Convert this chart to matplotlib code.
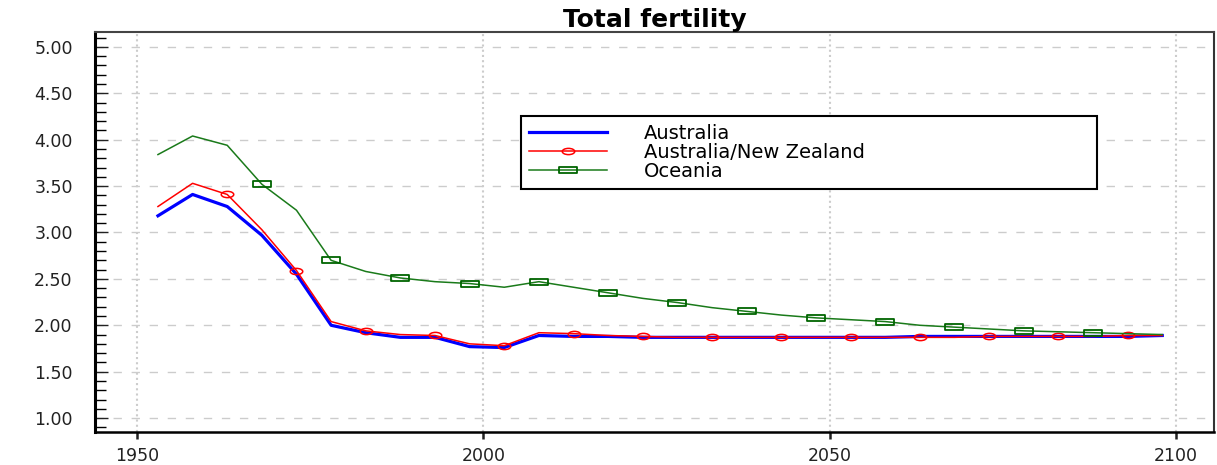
#!/usr/bin/env python
# -*- coding: utf-8 -*-
import matplotlib
matplotlib.use('Agg')
import matplotlib.pyplot as plt
from matplotlib.path import Path
from matplotlib.transforms import Affine2D
from matplotlib.ticker import MultipleLocator, FormatStrFormatter

years = [1953, 1958, 1963, 1968, 1973, 1978, 1983, 1988, 1993, 1998,
         2003, 2008, 2013, 2018, 2023, 2028, 2033, 2038, 2043, 2048,
         2053, 2058, 2063, 2068, 2073, 2078, 2083, 2088, 2093, 2098]

australia = [3.18, 3.41, 3.28, 2.97, 2.55, 2.00, 1.92, 1.87, 1.87, 1.77,
             1.76, 1.89, 1.88, 1.88, 1.87, 1.87, 1.87, 1.87, 1.87, 1.87,
             1.87, 1.87, 1.88, 1.88, 1.88, 1.88, 1.88, 1.88, 1.88, 1.89]

aus_nz = [3.28, 3.53, 3.41, 3.03, 2.59, 2.04, 1.94, 1.90, 1.89, 1.80,
          1.78, 1.92, 1.91, 1.89, 1.88, 1.87, 1.87, 1.87, 1.87, 1.87,
          1.87, 1.87, 1.87, 1.87, 1.88, 1.88, 1.88, 1.88, 1.89, 1.89]

oceania = [3.84, 4.04, 3.94, 3.52, 3.24, 2.70, 2.58, 2.51, 2.47, 2.45,
           2.41, 2.47, 2.41, 2.35, 2.29, 2.245, 2.19, 2.15, 2.11, 2.08,
           2.06, 2.04, 2.00, 1.98, 1.96, 1.94, 1.93, 1.92, 1.91, 1.90]

labels = ['Australia', 'Australia/New Zealand', 'Oceania']

plt.rcParams['font.family'] = ['DejaVu Sans']

# wide markers, the reference is stretched sideways
ellipse = Path.unit_circle().transformed(Affine2D().scale(2.0, 1.0))
box = Path([(-3, -1), (3, -1), (3, 1), (-3, 1), (-3, -1)],
           [Path.MOVETO, Path.LINETO, Path.LINETO, Path.LINETO, Path.CLOSEPOLY])

fig = plt.figure(figsize=(12.17, 4.65), dpi=100)
ax = fig.add_axes([0.078, 0.071, 0.9197, 0.860])

ax.plot(years, australia, color='#0000ff', lw=2.3, label=labels[0], zorder=3)
ax.plot(years, aus_nz, color='#ff0000', lw=1.1, marker=ellipse, markersize=9,
        markerfacecolor='none', markeredgecolor='#ff0000', markeredgewidth=1.1,
        markevery=slice(2, 30, 2), label=labels[1], zorder=4)
ax.plot(years, oceania, color='#1a7a1a', lw=1.1, marker=box, markersize=13,
        markerfacecolor='none', markeredgecolor='#006400', markeredgewidth=1.3,
        markevery=slice(3, 28, 2), label=labels[2], zorder=4)

ax.set_xlim(1943.9, 2105.5)
ax.set_ylim(0.85, 5.16)

ax.xaxis.set_major_locator(MultipleLocator(50))
ax.yaxis.set_major_locator(MultipleLocator(0.5))
ax.yaxis.set_minor_locator(MultipleLocator(0.1))
ax.yaxis.set_major_formatter(FormatStrFormatter('%.2f'))

ax.tick_params(axis='x', which='major', direction='out', length=5, width=1.8,
               labelsize=12.5, pad=6, colors='#222222', top=False)
ax.tick_params(axis='y', which='major', direction='in', length=9, width=1.0,
               labelsize=12.5, pad=16, colors='#222222', right=False)
ax.tick_params(axis='y', which='minor', direction='in', length=8, width=1.0,
               right=False)
ax.tick_params(axis='x', which='minor', bottom=False, top=False)

ax.yaxis.grid(True, which='major', color='#cccccc', lw=1.0, linestyle=(0, (6, 7)))
ax.xaxis.grid(True, which='major', color='#cccccc', lw=1.5, linestyle=(0, (1, 1.5)))
ax.set_axisbelow(True)

ax.spines['left'].set_linewidth(2.2)
ax.spines['bottom'].set_linewidth(1.8)
ax.spines['top'].set_linewidth(1.5)
ax.spines['top'].set_color('#444444')
ax.spines['right'].set_linewidth(1.5)
ax.spines['right'].set_color('#333333')

ax.set_title('Total fertility', fontsize=18, fontweight='bold', pad=4)

leg = ax.legend(loc='upper left', bbox_to_anchor=(0.381, 0.6025, 0.5147, 0.1875),
                mode='expand', fontsize=14, handlelength=4.0, handletextpad=1.9,
                labelspacing=0.0, borderpad=0.4, borderaxespad=0.0,
                fancybox=False, framealpha=1.0, edgecolor='black')
leg.get_frame().set_linewidth(1.5)

fig.savefig('out.png', dpi=100)
